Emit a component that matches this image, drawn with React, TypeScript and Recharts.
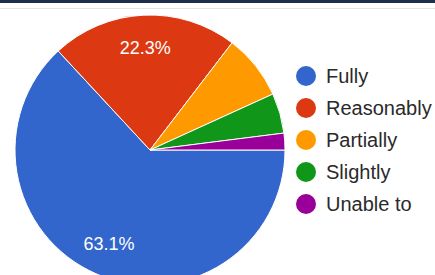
import React from "react";
import { PieChart, Pie, Cell, Legend } from "recharts";

const categories = ["Fully", "Reasonably", "Partially", "Slightly", "Unable to"];
const values = [63.1, 22.3, 7.8, 4.8, 2.0];
const colors = ["#3366cc", "#dc3912", "#ff9900", "#109618", "#990099"];

const data = categories.map((name, i) => ({ name, value: values[i] }));

const RAD = Math.PI / 180;

const renderLabel = (props: any) => {
  const { cx, cy, midAngle, outerRadius, percent } = props;
  if (percent < 0.1) return null;
  const r = outerRadius * 0.76;
  const x = cx + r * Math.cos(-midAngle * RAD);
  const y = cy + r * Math.sin(-midAngle * RAD);
  return (
    <text
      x={x}
      y={y}
      fill="#ffffff"
      textAnchor="middle"
      dominantBaseline="central"
      fontSize={18}
      fontFamily="'Liberation Sans', Arial, sans-serif"
    >
      {(percent * 100).toFixed(1)}%
    </text>
  );
};

const renderLegend = () => (
  <div style={{ fontFamily: "'Liberation Sans', Arial, sans-serif" }}>
    {categories.map((c, i) => (
      <div
        key={c}
        style={{ display: "flex", alignItems: "center", height: 32 }}
      >
        <svg width={20} height={20} style={{ marginRight: 10 }}>
          <circle cx={10} cy={10} r={10} fill={colors[i]} />
        </svg>
        <span style={{ fontSize: 20, color: "#2a2a2a", whiteSpace: "nowrap" }}>{c}</span>
      </div>
    ))}
  </div>
);

export default function App() {
  return (
    <div
      style={{
        position: "absolute",
        top: 0,
        left: 0,
        width: 435,
        height: 275,
        background: "#ffffff",
        overflow: "hidden",
      }}
    >
      <div style={{ position: "absolute", top: 0, left: 0, width: 435, height: 3, background: "#1f2d4d" }} />
      <div style={{ position: "absolute", top: 8, left: 0, width: 435, height: 1, background: "#e3e3ea" }} />
      <PieChart width={435} height={275} margin={{ top: 0, right: 0, bottom: 0, left: 0 }}>
        <Pie
          data={data}
          dataKey="value"
          nameKey="name"
          cx={150}
          cy={150}
          outerRadius={135}
          startAngle={0}
          endAngle={-360}
          stroke="#ffffff"
          strokeWidth={1}
          label={renderLabel}
          labelLine={false}
          isAnimationActive={false}
        >
          {data.map((d, i) => (
            <Cell key={d.name} fill={colors[i]} />
          ))}
        </Pie>
        <Legend
          content={renderLegend}
          layout="vertical"
          wrapperStyle={{ position: "absolute", left: 296, top: 60, width: 140 }}
        />
      </PieChart>
    </div>
  );
}
